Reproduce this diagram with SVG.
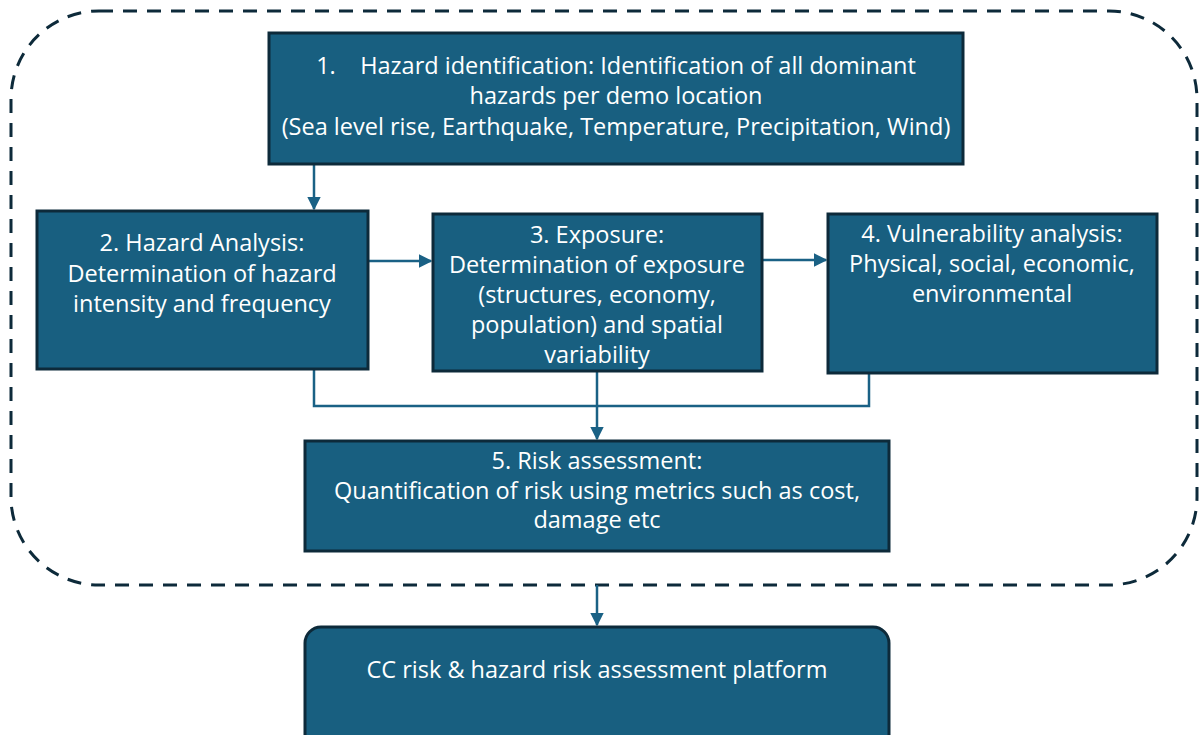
<svg xmlns="http://www.w3.org/2000/svg" width="1199" height="735" viewBox="0 0 1199 735">
  <style>
    .box { fill: #185f80; stroke: #0d2a3a; stroke-width: 3; }
    .lbl { fill: #ffffff; font-family: "Open Sans", "Liberation Sans", Arial, sans-serif; font-size: 23.5px; text-anchor: middle; }
    .wire { fill: none; stroke: #1a6185; stroke-width: 2.5; }
    .frame { fill: none; stroke: #0d2a3a; stroke-width: 3; stroke-dasharray: 14 10; }
  </style>
  <defs>
    <marker id="arrow" viewBox="0 0 10 10" refX="9" refY="5" markerWidth="5.5" markerHeight="5.5" orient="auto" markerUnits="strokeWidth">
      <path d="M0,0 L10,5 L0,10 Z" fill="#1a6185"/>
    </marker>
  </defs>
  <rect width="1199" height="735" fill="#ffffff"/>

  <!-- dashed boundary around the assessment steps -->
  <rect class="frame" x="11" y="11" width="1186" height="574" rx="88" ry="88"/>

  <g id="connectors">
    <path class="wire" d="M314,164 V209" marker-end="url(#arrow)"/>
    <path class="wire" d="M368,261 H431" marker-end="url(#arrow)"/>
    <path class="wire" d="M762,260 H826" marker-end="url(#arrow)"/>
    <path class="wire" d="M314,369 V406 H869 V373"/>
    <path class="wire" d="M597,371 V439" marker-end="url(#arrow)"/>
    <path class="wire" d="M597,585 V625" marker-end="url(#arrow)"/>
  </g>

  <g id="hazard-identification">
    <rect class="box" x="269" y="33" width="694" height="131"/>
    <text class="lbl" x="616" y="74" xml:space="preserve">1.    Hazard identification: Identification of all dominant</text>
    <text class="lbl" x="616" y="104">hazards per demo location</text>
    <text class="lbl" x="616" y="135">(Sea level rise, Earthquake, Temperature, Precipitation, Wind)</text>
  </g>

  <g id="hazard-analysis">
    <rect class="box" x="37" y="211" width="331" height="158"/>
    <text class="lbl" x="202" y="251">2. Hazard Analysis:</text>
    <text class="lbl" x="202" y="282">Determination of hazard</text>
    <text class="lbl" x="202" y="312">intensity and frequency</text>
  </g>

  <g id="exposure">
    <rect class="box" x="433" y="214" width="329" height="157"/>
    <text class="lbl" x="597" y="243">3. Exposure:</text>
    <text class="lbl" x="597" y="273">Determination of exposure</text>
    <text class="lbl" x="597" y="303">(structures, economy,</text>
    <text class="lbl" x="597" y="333">population) and spatial</text>
    <text class="lbl" x="597" y="363">variability</text>
  </g>

  <g id="vulnerability-analysis">
    <rect class="box" x="828" y="214" width="329" height="159"/>
    <text class="lbl" x="992" y="242">4. Vulnerability analysis:</text>
    <text class="lbl" x="992" y="272">Physical, social, economic,</text>
    <text class="lbl" x="992" y="302">environmental</text>
  </g>

  <g id="risk-assessment">
    <rect class="box" x="305" y="441" width="584" height="110"/>
    <text class="lbl" x="597" y="469">5. Risk assessment:</text>
    <text class="lbl" x="597" y="499">Quantification of risk using metrics such as cost,</text>
    <text class="lbl" x="597" y="528">damage etc</text>
  </g>

  <g id="platform">
    <rect class="box" x="305" y="627" width="584" height="130" rx="16" ry="16"/>
    <text class="lbl" x="597" y="678">CC risk &amp; hazard risk assessment platform</text>
  </g>
</svg>
